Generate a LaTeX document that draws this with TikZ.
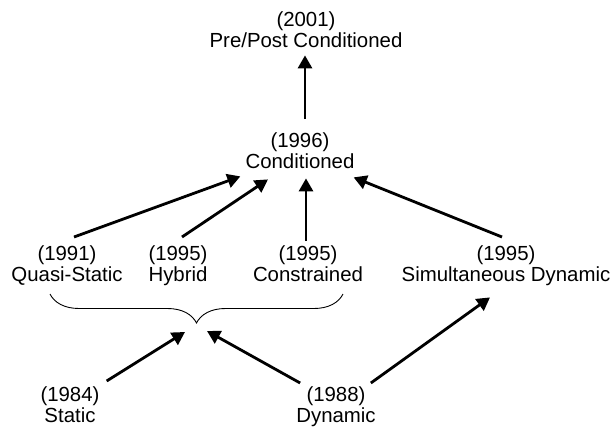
\documentclass[tikz,border=0pt]{standalone}
\usepackage{fontspec}
\setmainfont{Liberation Sans}
\usetikzlibrary{positioning,arrows.meta,calc,decorations.pathreplacing}

\begin{document}
\begin{tikzpicture}[x = 1pt, y = -1pt,
    stage/.style = {align = center, inner sep = 2pt, anchor = north,
                     font = \fontsize{20.4}{21}\selectfont},
    arr/.style = {line width = 2.8, -{Triangle[length = 13pt, width = 14pt]}}]
    \useasboundingbox (0,0) rectangle (613,428);

    \node [stage] (pre)    at (306,10)  {(2001)\\Pre/Post Conditioned};
    \node [stage] (cond)   at (300,131) {(1996)\\Conditioned};
    \node [stage] (quasi)  at (67,244)  {(1991)\\Quasi-Static};
    \node [stage] (hybrid) at (178,244) {(1995)\\Hybrid};
    \node [stage] (constr) at (308,244) {(1995)\\Constrained};
    \node [stage] (simul)  at (506,244) {(1995)\\Simultaneous Dynamic};
    \node [stage] (static) at (70,385)  {(1984)\\Static};
    \node [stage] (dyn)    at (336,385) {(1988)\\Dynamic};

    \coordinate (braceL) at (50,294);
    \coordinate (braceR) at (343,294);
    \coordinate (tip)    at (197,323);

    \draw [line width = 0.9, decorate,
           decoration = {brace, mirror, amplitude = 29pt}] (braceL) -- (braceR);

    \draw [arr] ($(cond.north -| 305,0) + (0,-12)$) -- ($(pre.south -| 305,0) + (0,5)$);

    \draw [arr] ($(quasi.north) + (7,-7)$)  -- ($(cond.south west) + (-3,5)$);
    \draw [arr] ($(hybrid.north) + (4,-7)$) -- ($(cond.south) + (-32,8)$);
    \draw [arr] ($(constr.north -| 306,0) + (0,-3)$) -- ($(cond.south -| 306,0) + (0,7)$);
    \draw [arr] ($(simul.north) + (-4,-7)$) -- ($(cond.south east) + (-3,6)$);

    \draw [arr] ($(static.north east) + (5,-4)$) -- ($(tip) + (-12,9)$);
    \draw [arr] ($(dyn.north west) + (6,-2)$)    -- ($(tip) + (10,8)$);
    \draw [arr] ($(dyn.north east) + (-7,-2)$)   -- ($(simul.south) + (-16,9)$);
\end{tikzpicture}
\end{document}
